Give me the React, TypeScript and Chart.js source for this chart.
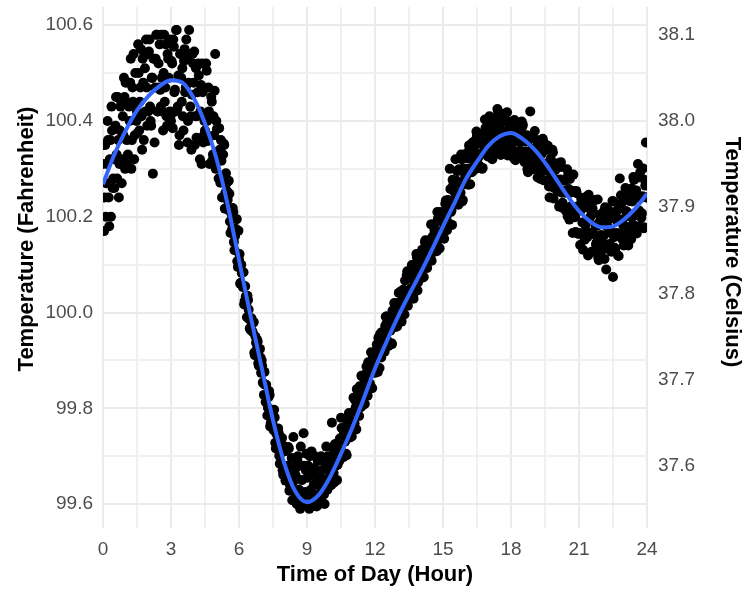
import React, { useEffect, useRef } from "react";
import { Chart, registerables } from "chart.js";

Chart.register(...registerables);

// ---------- DATA ----------
const READING_STEP = 0.05;

// Readings every 0.05 h starting at 0 h (one row = half an hour)
const READINGS_A_START = 0;
const readingsA: number[] = [
  100.31, 100.17, 100.35, 100.27, 100.40, 100.24, 100.32, 100.20, 100.38, 100.28,
  100.26, 100.39, 100.33, 100.45, 100.24, 100.38, 100.44, 100.32, 100.37, 100.45,
  100.48, 100.36, 100.33, 100.43, 100.48, 100.30, 100.47, 100.54, 100.37, 100.43,
  100.42, 100.56, 100.38, 100.47, 100.41, 100.53, 100.36, 100.51, 100.57, 100.39,
  100.42, 100.57, 100.40, 100.49, 100.29, 100.53, 100.47, 100.58, 100.42, 100.52,
  100.56, 100.43, 100.49, 100.38, 100.58, 100.47, 100.41, 100.54, 100.49, 100.42,
  100.40, 100.52, 100.57, 100.46, 100.42, 100.59, 100.43, 100.35, 100.54, 100.49,
  100.51, 100.38, 100.55, 100.47, 100.53, 100.40, 100.59, 100.43, 100.34, 100.54,
  100.48, 100.35, 100.51, 100.41, 100.52, 100.36, 100.42, 100.31, 100.46, 100.37,
  100.38, 100.52, 100.40, 100.47, 100.31, 100.41, 100.44, 100.33, 100.37, 100.54,
  100.40, 100.32, 100.28, 100.34, 100.36, 100.24, 100.33, 100.35, 100.25, 100.27,
  100.235, 100.275, 100.19, 100.215, 100.175, 100.21, 100.13, 100.175, 100.195, 100.095,
  100.11, 100.06, 100.10, 100.058, 100.084, 100.024, 100.034, 99.99, 100.026, 99.986,
  99.965, 99.988, 99.96, 99.98, 99.911, 99.937, 99.943, 99.894, 99.897, 99.906,
  99.90, 99.854, 99.828, 99.849, 99.849, 99.785, 99.823, 99.828, 99.769, 99.773,
  99.762, 99.797, 99.728, 99.747, 99.718, 99.749, 99.684, 99.719, 99.738, 99.661,
  99.71, 99.649, 99.713, 99.667, 99.716, 99.64, 99.664, 99.608, 99.74, 99.626,
  99.66, 99.60, 99.70, 99.63, 99.59, 99.68, 99.62, 99.748, 99.60, 99.67,
  99.62, 99.68, 99.59, 99.66, 99.71, 99.60, 99.64, 99.70, 99.61, 99.65,
  99.64, 99.60, 99.67, 99.63, 99.69, 99.62, 99.65, 99.72, 99.63, 99.67,
  99.638, 99.688, 99.77, 99.716, 99.645, 99.699, 99.726, 99.682, 99.705, 99.737,
  99.78, 99.708, 99.698, 99.74, 99.757, 99.702, 99.764, 99.79, 99.739, 99.761,
  99.772, 99.822, 99.768, 99.802, 99.84, 99.834, 99.784, 99.834, 99.868, 99.806,
  99.847, 99.809, 99.872, 99.846, 99.896, 99.846, 99.877, 99.843, 99.905, 99.88,
  99.874, 99.92, 99.905, 99.947, 99.884, 99.933, 99.959, 99.921, 99.942, 99.972,
  99.976, 99.941, 99.93, 99.972, 99.989, 99.934, 99.995, 100.02, 99.97, 99.991,
  99.992, 100.041, 99.985, 100.018, 100.003, 100.048, 99.996, 100.045, 100.078, 100.014,
  100.035, 100.084, 100.032, 100.069, 100.029, 100.09, 100.07, 100.115, 100.063, 100.10,
  100.116, 100.081, 100.106, 100.074, 100.147, 100.108, 100.093, 100.142, 100.13, 100.111,
  100.108, 100.159, 100.182, 100.146, 100.137, 100.21, 100.152, 100.134, 100.203, 100.19,
  100.199, 100.154, 100.227, 100.199, 100.227, 100.187, 100.30, 100.21, 100.183, 100.265,
  100.252, 100.32, 100.275, 100.244, 100.299, 100.24, 100.33, 100.232, 100.301, 100.269,
  100.268, 100.322, 100.30, 100.349, 100.268, 100.327, 100.355, 100.304, 100.328, 100.361,
  100.37, 100.323, 100.307, 100.355, 100.373, 100.302, 100.375, 100.403, 100.337, 100.36,
  100.353, 100.41, 100.337, 100.374, 100.351, 100.403, 100.335, 100.392, 100.425, 100.346,
  100.383, 100.329, 100.40, 100.36, 100.415, 100.346, 100.378, 100.328, 100.399, 100.359,
  100.335, 100.384, 100.358, 100.402, 100.318, 100.369, 100.393, 100.337, 100.355, 100.384,
  100.388, 100.336, 100.314, 100.357, 100.37, 100.293, 100.361, 100.42, 100.312, 100.33,
  100.327, 100.379, 100.301, 100.333, 100.305, 100.352, 100.279, 100.331, 100.363, 100.276,
  100.298, 100.35, 100.276, 100.313, 100.24, 100.321, 100.287, 100.334, 100.26, 100.297,
  100.311, 100.253, 100.277, 100.224, 100.314, 100.25, 100.218, 100.276, 100.25, 100.214,
  100.201, 100.258, 100.279, 100.222, 100.201, 100.288, 100.201, 100.168, 100.249, 100.222,
  100.215, 100.141, 100.237, 100.188, 100.219, 100.152, 100.241, 100.167, 100.119, 100.228,
  100.20, 100.127, 100.217, 100.164, 100.235, 100.142, 100.181, 100.114, 100.204, 100.15,
  100.129, 100.194, 100.161, 100.22, 100.09, 100.181, 100.214, 100.143, 100.17, 100.209,
  100.074, 100.157, 100.132, 100.193, 100.214, 100.118, 100.28, 100.245, 100.154, 100.182,
  100.181, 100.26, 100.158, 100.209, 100.176, 100.248, 100.153, 100.232, 100.283, 100.167,
  100.239, 100.165, 100.31, 100.213, 100.293, 100.198, 100.243, 100.176, 100.277, 100.355,
  100.24,
];

// Interleaved readings, every 0.05 h starting at 0.025 h (one row = half an hour)
const READINGS_B_START = 0.025;
const readingsB: number[] = [
  100.35, 100.24, 100.20, 100.31, 100.36, 100.18, 100.36, 100.43, 100.26, 100.32,
  100.32, 100.45, 100.28, 100.36, 100.31, 100.43, 100.27, 100.41, 100.49, 100.30,
  100.44, 100.31, 100.48, 100.40, 100.53, 100.36, 100.44, 100.32, 100.50, 100.40,
  100.375, 100.50, 100.44, 100.55, 100.34, 100.48, 100.54, 100.42, 100.47, 100.54,
  100.545, 100.43, 100.39, 100.49, 100.53, 100.355, 100.53, 100.58, 100.42, 100.47,
  100.465, 100.58, 100.42, 100.50, 100.44, 100.56, 100.39, 100.53, 100.57, 100.41,
  100.525, 100.385, 100.555, 100.465, 100.59, 100.425, 100.495, 100.37, 100.54, 100.44,
  100.41, 100.525, 100.46, 100.57, 100.355, 100.48, 100.54, 100.41, 100.455, 100.52,
  100.545, 100.41, 100.365, 100.46, 100.495, 100.32, 100.475, 100.52, 100.355, 100.40,
  100.41, 100.505, 100.358, 100.42, 100.368, 100.45, 100.318, 100.41, 100.463, 100.30,
  100.383, 100.325, 100.385, 100.271, 100.317, 100.272, 100.353, 100.217, 100.291, 100.253,
  100.214, 100.248, 100.166, 100.205, 100.218, 100.147, 100.16, 100.169, 100.107, 100.171,
  100.122, 100.062, 100.082, 100.053, 100.017, 100.055, 100.015, 100.035, 100.006, 99.967,
  99.963, 99.976, 99.979, 99.916, 99.95, 99.922, 99.939, 99.889, 99.924, 99.874,
  99.888, 99.852, 99.876, 99.813, 99.83, 99.801, 99.836, 99.762, 99.793, 99.768,
  99.754, 99.781, 99.716, 99.747, 99.758, 99.701, 99.712, 99.719, 99.67, 99.721,
  99.667, 99.711, 99.68, 99.719, 99.628, 99.677, 99.696, 99.635, 99.649, 99.673,
  99.61, 99.69, 99.63, 99.595, 99.72, 99.65, 99.60, 99.68, 99.625, 99.705,
  99.655, 99.595, 99.70, 99.63, 99.605, 99.675, 99.62, 99.66, 99.595, 99.69,
  99.61, 99.66, 99.70, 99.625, 99.645, 99.60, 99.68, 99.64, 99.70, 99.655,
  99.68, 99.64, 99.70, 99.665, 99.725, 99.68, 99.65, 99.715, 99.69, 99.735,
  99.759, 99.701, 99.748, 99.73, 99.705, 99.773, 99.743, 99.788, 99.772, 99.741,
  99.756, 99.793, 99.817, 99.756, 99.82, 99.804, 99.846, 99.802, 99.867, 99.823,
  99.861, 99.835, 99.887, 99.826, 99.868, 99.852, 99.917, 99.842, 99.903, 99.891,
  99.888, 99.933, 99.876, 99.926, 99.955, 99.906, 99.934, 99.957, 99.918, 99.991,
  99.992, 99.934, 99.98, 99.962, 99.936, 100.004, 99.974, 100.019, 100.002, 99.971,
  99.985, 100.021, 100.044, 99.981, 100.044, 100.027, 100.067, 100.022, 100.086, 100.04,
  100.077, 100.05, 100.099, 100.037, 100.077, 100.059, 100.122, 100.046, 100.104, 100.091,
  100.086, 100.131, 100.073, 100.123, 100.151, 100.101, 100.128, 100.151, 100.111, 100.184,
  100.184, 100.126, 100.172, 100.154, 100.128, 100.196, 100.165, 100.21, 100.193, 100.162,
  100.175, 100.211, 100.234, 100.172, 100.235, 100.217, 100.258, 100.213, 100.277, 100.232,
  100.27, 100.24, 100.295, 100.225, 100.27, 100.25, 100.32, 100.235, 100.30, 100.285,
  100.285, 100.334, 100.267, 100.321, 100.35, 100.293, 100.322, 100.346, 100.299, 100.378,
  100.372, 100.305, 100.353, 100.332, 100.30, 100.373, 100.337, 100.385, 100.363, 100.326,
  100.334, 100.371, 100.393, 100.32, 100.387, 100.364, 100.406, 100.353, 100.42, 100.367,
  100.394, 100.359, 100.41, 100.336, 100.376, 100.352, 100.418, 100.329, 100.39, 100.37,
  100.349, 100.393, 100.322, 100.371, 100.395, 100.334, 100.358, 100.377, 100.326, 100.399,
  100.392, 100.32, 100.363, 100.336, 100.299, 100.367, 100.325, 100.368, 100.341, 100.299,
  100.311, 100.343, 100.36, 100.282, 100.344, 100.316, 100.353, 100.295, 100.357, 100.299,
  100.339, 100.297, 100.348, 100.263, 100.303, 100.272, 100.34, 100.238, 100.30, 100.275,
  100.258, 100.309, 100.221, 100.278, 100.304, 100.229, 100.255, 100.276, 100.212, 100.299,
  100.288, 100.194, 100.25, 100.214, 100.166, 100.254, 100.199, 100.254, 100.219, 100.164,
  100.166, 100.213, 100.239, 100.131, 100.22, 100.183, 100.237, 100.158, 100.246, 100.167,
  100.214, 100.164, 100.233, 100.127, 100.182, 100.146, 100.236, 100.109, 100.191, 100.162,
  100.147, 100.21, 100.112, 100.182, 100.217, 100.133, 100.168, 100.197, 100.127, 100.233,
  100.232, 100.135, 100.20, 100.166, 100.119, 100.218, 100.164, 100.228, 100.195, 100.14,
  100.161, 100.212, 100.243, 100.14, 100.233, 100.20, 100.259, 100.184, 100.277, 100.203,
  100.255, 100.209, 100.282, 100.18, 100.239, 100.207, 100.301, 100.178, 100.265, 100.24,
];

// Smoothed fit
const fitHours: number[] = [
  0, 0.5, 1, 1.5, 2, 2.5, 3, 3.5, 4, 4.5, 5, 5.5, 6, 6.5, 7, 7.5, 8, 8.5, 9, 9.5,
  10, 10.5, 11, 11.5, 12, 12.5, 13, 13.5, 14, 14.5, 15, 15.5, 16, 16.5, 17, 17.5,
  18, 18.5, 19, 19.5, 20, 20.5, 21, 21.5, 22, 22.5, 23, 23.5, 24,
];
const fitTempsF: number[] = [
  100.268, 100.33, 100.38, 100.422, 100.452, 100.473, 100.485, 100.48, 100.448, 100.395,
  100.322, 100.225, 100.11, 99.995, 99.885, 99.775, 99.685, 99.625, 99.604, 99.618,
  99.655, 99.705, 99.76, 99.82, 99.883, 99.938, 99.99, 100.037, 100.082, 100.13,
  100.18, 100.228, 100.278, 100.315, 100.348, 100.368, 100.375, 100.363, 100.342, 100.313,
  100.278, 100.243, 100.212, 100.19, 100.178, 100.18, 100.195, 100.218, 100.248,
];

// Axes
const xTickValues: number[] = [0, 1.5, 3, 4.5, 6, 7.5, 9, 10.5, 12, 13.5, 15, 16.5, 18, 19.5, 21, 22.5, 24];
const xLabelValues: number[] = [0, 3, 6, 9, 12, 15, 18, 21, 24];
const yTickValues: number[] = [99.6, 99.7, 99.8, 99.9, 100.0, 100.1, 100.2, 100.3, 100.4, 100.5, 100.6];
const yLabelValues: number[] = [99.6, 99.8, 100.0, 100.2, 100.4, 100.6];
const y2TickValues: number[] = [37.6, 37.7, 37.8, 37.9, 38.0, 38.1];

const X_TITLE = "Time of Day (Hour)";
const Y_TITLE = "Temperature (Fahrenheit)";
const Y2_TITLE = "Temperature (Celsius)";

const Y_MIN_F = 99.55;
const Y_MAX_F = 100.638;
const fToC = (f: number) => ((f - 32) * 5) / 9;

// ---------- STYLE ----------
const FONT = '"Liberation Sans", Arial, Helvetica, sans-serif';
const TICK_COLOR = "#4d4d4d";
const GRID_MAJOR = "#ebebeb";
const GRID_MINOR = "#f0f0f0";

const isIn = (v: number, arr: number[]) => arr.some((a) => Math.abs(a - v) < 1e-6);

const zeroPadding = (scale: any) => {
  scale.paddingTop = 0;
  scale.paddingBottom = 0;
  scale.paddingLeft = 0;
  scale.paddingRight = 0;
};

const axisTitlesPlugin = {
  id: "axisTitles",
  afterDraw(chart: any) {
    const { ctx, chartArea } = chart;
    ctx.save();
    ctx.fillStyle = "#000";
    ctx.font = `bold 22px ${FONT}`;
    ctx.textAlign = "center";
    ctx.textBaseline = "middle";
    ctx.fillText(X_TITLE, (chartArea.left + chartArea.right) / 2, 575);
    ctx.save();
    ctx.translate(27, 239);
    ctx.rotate(-Math.PI / 2);
    ctx.fillText(Y_TITLE, 0, 0);
    ctx.restore();
    ctx.save();
    ctx.translate(732, 252);
    ctx.rotate(Math.PI / 2);
    ctx.fillText(Y2_TITLE, 0, 0);
    ctx.restore();
    ctx.restore();
  },
};

export default function App() {
  const canvasRef = useRef<HTMLCanvasElement | null>(null);

  useEffect(() => {
    if (!canvasRef.current) return;
    const points = [
      ...readingsA.map((v, i) => ({ x: READINGS_A_START + i * READING_STEP, y: v })),
      ...readingsB.map((v, i) => ({ x: READINGS_B_START + i * READING_STEP, y: v })),
    ];
    const fit = fitHours.map((h, i) => ({ x: h, y: fitTempsF[i] }));

    const gridColor = (ctx: any) => {
      const v = ctx.tick ? ctx.tick.value : 0;
      return ctx.scale.axis === "x"
        ? isIn(v, xLabelValues) ? GRID_MAJOR : GRID_MINOR
        : isIn(v, yLabelValues) ? GRID_MAJOR : GRID_MINOR;
    };

    const chart = new Chart(canvasRef.current, {
      type: "scatter",
      data: {
        datasets: [
          {
            label: "fit",
            data: fit,
            showLine: true,
            borderColor: "#3366FF",
            borderWidth: 4,
            pointRadius: 0,
            cubicInterpolationMode: "monotone",
            order: 0,
          } as any,
          {
            label: "readings",
            data: points,
            backgroundColor: "#000",
            borderWidth: 0,
            pointRadius: 5,
            order: 1,
          } as any,
        ],
      },
      options: {
        animation: false,
        responsive: false,
        devicePixelRatio: 1,
        events: [],
        layout: { padding: { top: 7, left: 0, right: 0, bottom: 0 } },
        plugins: { legend: { display: false }, tooltip: { enabled: false } },
        scales: {
          x: {
            type: "linear",
            min: 0,
            max: 24,
            afterBuildTicks: (scale: any) => {
              scale.ticks = xTickValues.map((v) => ({ value: v }));
            },
            afterFit: (scale: any) => {
              scale.height = 61;
              zeroPadding(scale);
            },
            ticks: {
              autoSkip: false,
              maxRotation: 0,
              padding: 10,
              color: TICK_COLOR,
              font: { family: FONT, size: 19 },
              callback: (v: any) => (isIn(Number(v), xLabelValues) ? String(v) : ""),
            },
            grid: { color: gridColor, lineWidth: 2, drawTicks: false },
            border: { display: false },
          },
          y: {
            type: "linear",
            position: "left",
            min: Y_MIN_F,
            max: Y_MAX_F,
            afterBuildTicks: (scale: any) => {
              scale.ticks = yTickValues.map((v) => ({ value: v }));
            },
            afterFit: (scale: any) => {
              scale.width = 103;
              zeroPadding(scale);
            },
            ticks: {
              autoSkip: false,
              padding: 10,
              color: TICK_COLOR,
              font: { family: FONT, size: 19 },
              callback: (v: any) => (isIn(Number(v), yLabelValues) ? Number(v).toFixed(1) : ""),
            },
            grid: { color: gridColor, lineWidth: 2, drawTicks: false },
            border: { display: false },
          },
          y2: {
            type: "linear",
            position: "right",
            min: fToC(Y_MIN_F),
            max: fToC(Y_MAX_F),
            afterBuildTicks: (scale: any) => {
              scale.ticks = y2TickValues.map((v) => ({ value: v }));
            },
            afterFit: (scale: any) => {
              scale.width = 97;
              zeroPadding(scale);
            },
            ticks: {
              autoSkip: false,
              padding: 11,
              color: TICK_COLOR,
              font: { family: FONT, size: 19 },
              callback: (v: any) => Number(v).toFixed(1),
            },
            grid: { drawOnChartArea: false, drawTicks: false },
            border: { display: false },
          },
        },
      },
      plugins: [axisTitlesPlugin],
    });
    return () => chart.destroy();
  }, []);

  return (
    <div style={{ position: "absolute", left: 0, top: 0, width: 744, height: 589, background: "#fff" }}>
      <canvas ref={canvasRef} width={744} height={589} />
    </div>
  );
}
